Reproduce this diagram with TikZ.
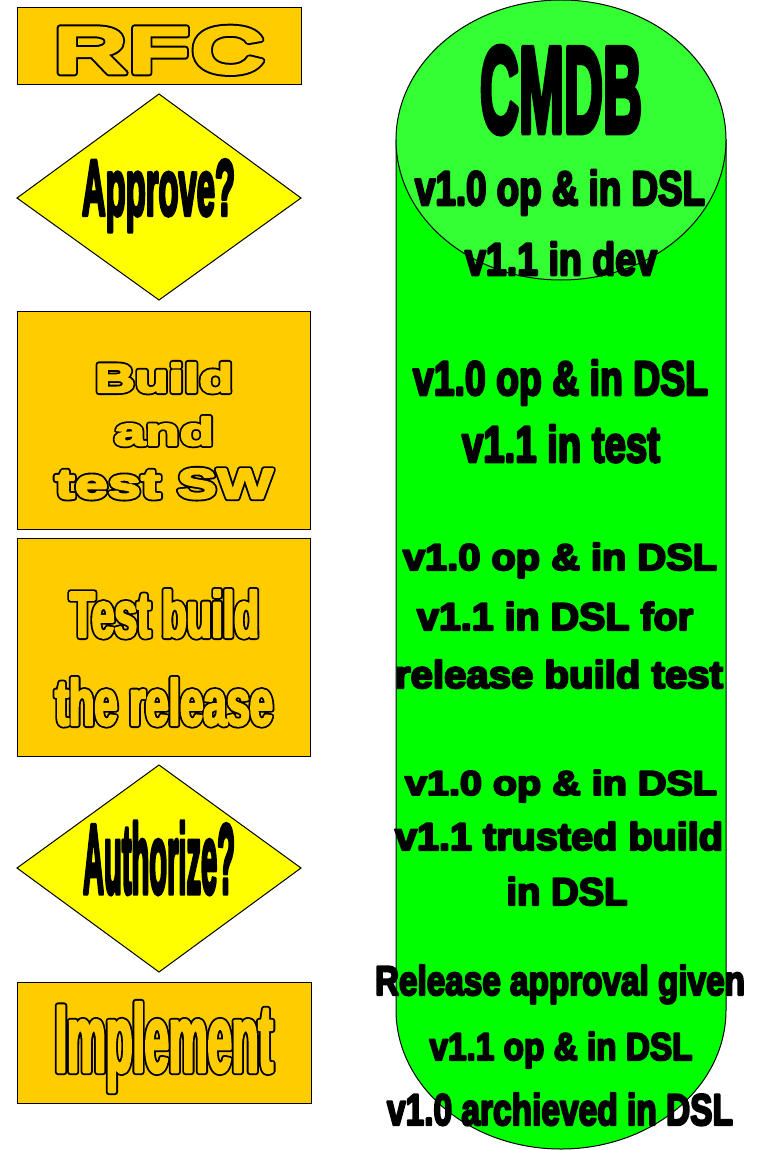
\documentclass[tikz,border=0pt]{standalone}
\usepackage{fontspec}
\usepackage{graphicx}
\newfontfamily\heavyfont[FakeBold=5.5]{Liberation Sans Bold}
\newcommand{\heavy}{\special{pdf:code 1 j}\heavyfont}
\newfontfamily\outlfont{Liberation Sans Bold}
\definecolor{boxorange}{HTML}{FFCC00}
\definecolor{diayellow}{HTML}{FFFF00}
\definecolor{cylbody}{HTML}{00FF00}
\definecolor{cyltop}{HTML}{33FF33}
\newcommand{\fitto}[3]{\resizebox{#1pt}{#2pt}{#3}}
% outlined text: width, height, font size, stretch, outline amount, inner amount, text
\newcommand{\outl}[7]{\resizebox{#1pt}{#2pt}{%
  \special{pdf:code 1 j}\fontsize{#3pt}{#3pt}\outlfont
  \rlap{\special{pdf:bcolor [0 0 0]}\addfontfeatures{FakeStretch=#4,FakeBold=#5}#7\special{pdf:ecolor}}%
  \special{pdf:bcolor [1 0.8 0]}\addfontfeatures{FakeStretch=#4,FakeBold=#6}#7\special{pdf:ecolor}}}
\tikzset{
  txt/.style={anchor=base, inner sep=0pt, outer sep=0pt},
  obox/.style={draw=black, fill=boxorange, line width=1pt},
  dbox/.style={draw=black, fill=diayellow, line width=1pt},
}
\begin{document}
\begin{tikzpicture}[x=1pt,y=-1pt]
\useasboundingbox (0,0) rectangle (759,1150);
% left column shapes
\draw[obox] (17,8) rectangle (301,85);
\draw[dbox] (17,198) -- (159,94) -- (301,198) -- (159,300) -- cycle;
\draw[obox] (17,311) rectangle (310,529);
\draw[obox] (17,538) rectangle (310,756);
\draw[dbox] (17,868) -- (159,765) -- (301,868) -- (159,972) -- cycle;
\draw[obox] (17,982) rectangle (311,1103);
% cylinder
\draw[fill=cylbody, line width=1pt] (396,140) -- (396,1010)
   arc[start angle=180, end angle=0, x radius=165, y radius=139] -- (726,140) -- cycle;
\draw[fill=cyltop, line width=1pt] (561,140) ellipse[x radius=165, y radius=140];
% left texts
\node[txt] (rfc) at (159,73) {\outl{212}{46}{64}{1.6}{10}{4}{RFC}};
\node[txt] (approve) at (158.5,215) {\fitto{153}{55}{\heavy Approve?}};
\node[txt] (build1) at (164,392) {\outl{138}{29}{40}{1.37}{15}{6}{Build}};
\node[txt] (build2) at (164,445) {\outl{100}{28}{39}{1.44}{15}{6}{and}};
\node[txt] (build3) at (164,498) {\outl{218}{29}{40}{1.47}{15}{6}{test SW}};
\node[txt] (test1) at (164.5,637) {\outl{189}{47}{65}{0.61}{9.2}{3.7}{Test build}};
\node[txt] (test2) at (164,725) {\outl{218}{47}{65}{0.64}{9.2}{3.7}{the release}};
\node[txt] (authorize) at (159,893) {\fitto{152}{71}{\heavy Authorize?}};
\node[txt] (implement) at (164,1072) {\outl{218}{70}{97}{0.45}{6.4}{2.6}{Implement}};
% cylinder texts
\node[txt] (cmdb) at (561,132) {\fitto{162}{85}{\heavy CMDB}};
\node[txt] (l1) at (560,205) {\fitto{290}{35}{\heavy v1.0 op \& in DSL}};
\node[txt] (l2) at (561,275) {\fitto{192}{33}{\heavy v1.1 in dev}};
\node[txt] (l3) at (560.5,395) {\fitto{295}{35}{\heavy v1.0 op \& in DSL}};
\node[txt] (l4) at (561,462) {\fitto{198}{37}{\heavy v1.1 in test}};
\node[txt] (l5) at (560,570) {\fitto{314}{27}{\heavy v1.0 op \& in DSL}};
\node[txt] (l6) at (555,630) {\fitto{276}{28}{\heavy v1.1 in DSL for}};
\node[txt] (l7) at (559,688) {\fitto{328}{28}{\heavy release build test}};
\node[txt] (l8) at (561,795) {\fitto{312}{25}{\heavy v1.0 op \& in DSL}};
\node[txt] (l9) at (559,850) {\fitto{328}{28}{\heavy v1.1 trusted build}};
\node[txt] (l10) at (567,905) {\fitto{121}{28}{\heavy in DSL}};
\node[txt] (l11) at (560,995) {\fitto{370}{30}{\heavy Release approval given}};
\node[txt] (l12) at (561,1060) {\fitto{263}{28}{\heavy v1.1 op \& in DSL}};
\node[txt] (l13) at (560,1125) {\fitto{346}{32}{\heavy v1.0 archieved in DSL}};
\end{tikzpicture}
\end{document}
